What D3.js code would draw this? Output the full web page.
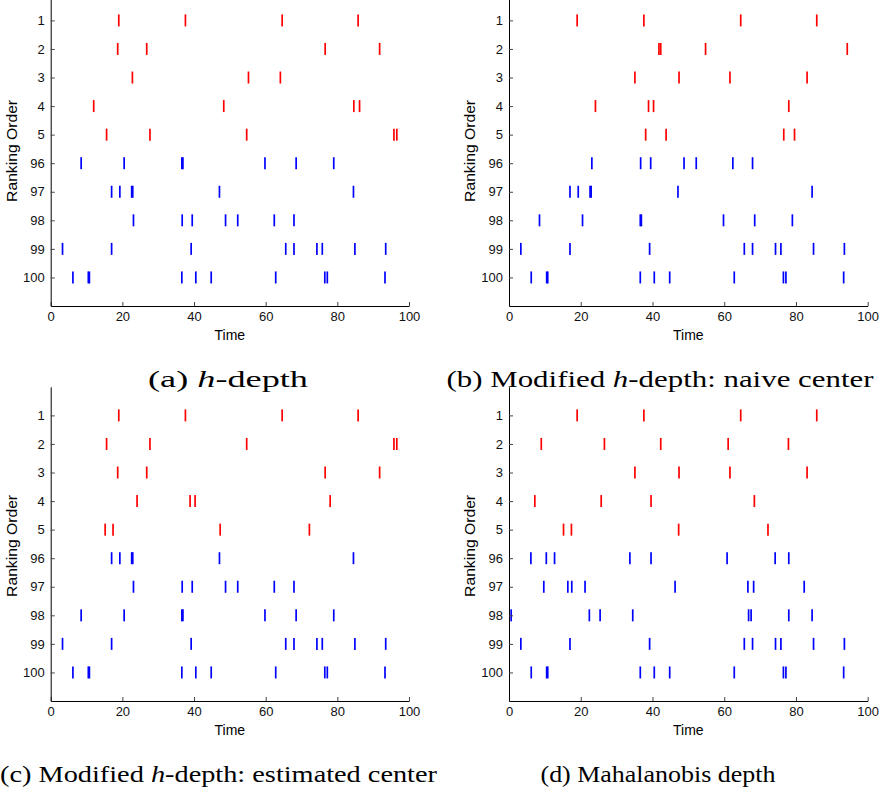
<!DOCTYPE html>
<html>
<head>
<meta charset="utf-8">
<script src="https://cdn.jsdelivr.net/npm/d3@7"></script>
<style>
  body { margin: 0; background: #fff; }
  svg { display: block; }
  .caption { font-family: 'Liberation Serif', 'Times New Roman', serif; }
</style>
</head>
<body>
<svg id="chart" width="879" height="789"></svg>
<script>
// spike times of each curve (red = top ranked, blue = bottom ranked)
const r1 = [19.0, 37.6, 64.6, 85.8]
const r2 = [18.7, 26.8, 76.6, 91.8]
const r3 = [22.8, 55.2, 64.1]
const r4 = [12.0, 48.3, 84.6, 86.2]
const r5 = [15.6, 27.7, 54.7, 95.8, 96.6]
const r6 = [41.8, 42.3, 54.8, 94.3]
const r7 = [35.1, 47.4, 61.6, 83.1]
const r8 = [24.1, 38.9, 40.3, 78.0]
const r9 = [38.1, 43.8, 76.6, 79.6]
const r10 = [15.2, 17.4, 47.3, 72.2]
const r11 = [9.0, 26.6, 42.3, 61.1, 77.9]
const r12 = [7.2, 25.7, 39.6, 68.4]

const b1 = [8.5, 20.5, 36.6, 36.9, 59.8, 68.5, 79.0]
const b2 = [17.0, 19.3, 22.6, 22.9, 47.1, 84.5]
const b3 = [23.1, 36.7, 39.5, 48.8, 52.2, 62.4, 67.9]
const b4 = [3.3, 17.0, 39.2, 65.6, 67.9, 74.3, 75.8, 84.9, 93.5]
const b5 = [6.2, 10.5, 10.8, 36.6, 40.5, 44.8, 62.8, 76.5, 77.2, 93.3]
const b6 = [6.1, 10.4, 12.7, 33.7, 39.6, 60.8, 74.2, 78.0]
const b7 = [9.7, 16.4, 17.5, 21.2, 46.3, 66.6, 68.2, 82.3]
const b8 = [0.6, 22.4, 25.4, 34.5, 66.8, 67.5, 78.0, 84.5]

// row order of each panel
const rowsA = [r1, r2, r3, r4, r5, b1, b2, b3, b4, b5]
const rowsB = [r1, r6, r7, r8, r9, b3, b2, b1, b4, b5]
const rowsC = [r1, r5, r2, r8, r10, b2, b3, b1, b4, b5]
const rowsD = [r1, r11, r7, r12, r10, b6, b7, b8, b4, b5]

const rankLabels = ['1', '2', '3', '4', '5', '96', '97', '98', '99', '100']
const xTicks = [0, 20, 40, 60, 80, 100]
const captions = [
  ['(a) ', 'h', '-depth'],
  ['(b) Modified ', 'h', '-depth: naive center'],
  ['(c) Modified ', 'h', '-depth: estimated center'],
  ['(d) Mahalanobis depth', '', '']
]

const svg = d3.select('#chart')

const panels = [
  { rows: rowsA, x0: 50.7, x1: 409, bottom: 306, cap: captions[0], capX: 228, capW: 160, capY: 387 },
  { rows: rowsB, x0: 509, x1: 867.7, bottom: 306, cap: captions[1], capX: 660, capW: 427, capY: 387 },
  { rows: rowsC, x0: 50.7, x1: 409, bottom: 701, cap: captions[2], capX: 218.5, capW: 437, capY: 782 },
  { rows: rowsD, x0: 509, x1: 867.7, bottom: 701, cap: captions[3], capX: 658, capW: 235, capY: 782 }
]

const sans = 'Liberation Sans, Arial, Helvetica, sans-serif'

panels.forEach(p => {
  const step = 28.56
  const xScale = d3.scaleLinear().domain([0, 100]).range([p.x0, p.x1])
  const yScale = d3.scaleLinear().domain([0, 11]).range([p.bottom - 11 * step, p.bottom])
  const g = svg.append('g')

  // spikes
  p.rows.forEach((times, i) => {
    g.append('g')
      .selectAll('line')
      .data(times)
      .join('line')
      .attr('x1', d => xScale(d))
      .attr('x2', d => xScale(d))
      .attr('y1', yScale(i + 1) - 6)
      .attr('y2', yScale(i + 1) + 6)
      .attr('stroke', i < 5 ? '#ff0000' : '#0000ff')
      .attr('stroke-width', 1.7)
  })

  // axes
  const xAxis = d3.axisBottom(xScale)
    .tickValues(xTicks)
    .tickSizeInner(-4).tickSizeOuter(0).tickPadding(6)
  const gx = g.append('g')
    .attr('transform', `translate(0,${p.bottom})`)
    .call(xAxis)
  const yAxis = d3.axisLeft(yScale)
    .tickValues(d3.range(1, 11))
    .tickFormat(d => rankLabels[d - 1])
    .tickSizeInner(-4).tickSizeOuter(0).tickPadding(6)
  const gy = g.append('g')
    .attr('transform', `translate(${p.x0},0)`)
    .call(yAxis)
  ;[gx, gy].forEach(a => {
    a.selectAll('text')
      .attr('font-family', sans)
      .attr('font-size', 13)
      .attr('fill', '#111')
    a.select('.domain').attr('stroke', '#000')
    a.selectAll('.tick line').attr('stroke', '#444')
  })

  g.append('text')
    .attr('x', (p.x0 + p.x1) / 2)
    .attr('y', p.bottom + 34)
    .attr('text-anchor', 'middle')
    .attr('font-family', sans)
    .attr('font-size', 14)
    .text('Time')

  g.append('text')
    .attr('transform', `translate(${p.x0 - 34},${(yScale.range()[0] + p.bottom) / 2 + 2}) rotate(-90)`)
    .attr('text-anchor', 'middle')
    .attr('font-family', sans)
    .attr('font-size', 14)
    .attr('textLength', 102)
    .attr('lengthAdjust', 'spacingAndGlyphs')
    .text('Ranking Order')

  // caption
  const cap = g.append('text')
    .attr('class', 'caption')
    .attr('x', p.capX - p.capW / 2)
    .attr('y', p.capY)
    .attr('font-size', 24)
    .attr('textLength', p.capW)
    .attr('lengthAdjust', 'spacingAndGlyphs')
  cap.append('tspan').text(p.cap[0])
  if (p.cap[1]) cap.append('tspan').attr('font-style', 'italic').text(p.cap[1])
  if (p.cap[2]) cap.append('tspan').text(p.cap[2])
})
</script>
</body>
</html>
